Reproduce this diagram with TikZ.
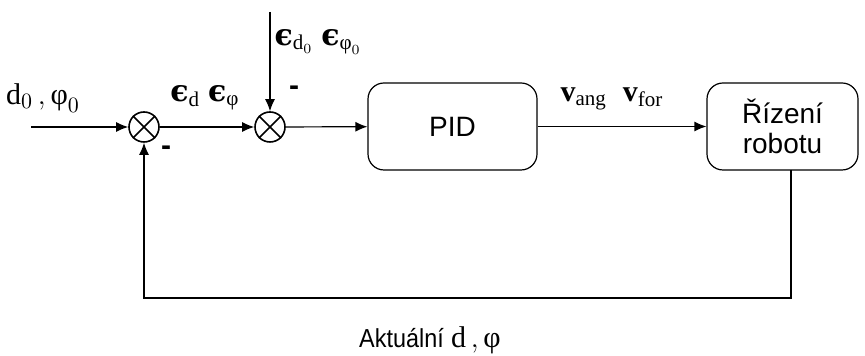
\documentclass[tikz,border=0pt]{standalone}
\usepackage{fontspec}
\usepackage{amsmath}
\setmainfont{Liberation Serif}
\setsansfont{Liberation Sans}
\newfontfamily\epsfont{DejaVu Serif}
\usetikzlibrary{arrows.meta}
\newcommand{\ep}{\text{\epsfont\bfseries ϵ}}
\newcommand{\ph}{\text{φ}}
\tikzset{
  sumnode/.style={circle,draw,thick,minimum size=15pt,inner sep=0pt},
  blockbox/.style={draw,rounded corners=8pt,font=\sffamily\fontsize{14}{16}\selectfont,align=center},
  lab/.style={font=\fontsize{15}{17}\selectfont,inner sep=0pt},
  minus/.style={font=\sffamily\bfseries\fontsize{15}{15}\selectfont,inner sep=0pt},
  conn/.style={-{Latex[length=6pt,width=5pt]}},
}
\begin{document}
\begin{tikzpicture}[x=0.5pt,y=-0.5pt,line width=0.6pt]
\useasboundingbox (0,0) rectangle (865,356);
\node[sumnode] (s1) at (144,127) {};
\node[sumnode] (s2) at (270,127) {};
\foreach \s in {s1,s2}{
  \draw[thick] (\s.north east) -- (\s.south west);
  \draw[thick] (\s.north west) -- (\s.south east);
}
\node[blockbox,minimum width=84.5pt,minimum height=43.5pt] (pid) at (452.5,126.5) {PID};
\node[blockbox,minimum width=75.5pt,minimum height=43.5pt] (rob) at (782.5,126.5) {Řízení\\[-1pt]robotu};
\coordinate (in) at (31,127);
\coordinate (top) at (270,12);
\coordinate (fb1) at (791,170);
\coordinate (fb2) at (791,298);
\coordinate (fb3) at (144,298);
\draw[conn] (in) -- (s1);
\draw[conn] (s1) -- (s2);
\draw[conn] (top) -- (s2);
\draw[conn] (s2) -- (pid);
\draw[conn] (pid) -- (rob);
\draw[conn] (fb1) -- (fb2) -- (fb3) -- (s1);
\node[lab] (l1) at (43,98) {$\mathrm{d}_0{\,,}\,\ph_0$};
\node[lab] (l2) at (205,98) {$\ep_{\mathrm{d}}\;\ep_{\ph}$};
\node[lab,anchor=west] (l3) at (274,42) {$\ep_{\mathrm{d}_0}\;\ep_{\ph_0}$};
\node[lab] (l4) at (612,99) {$\mathbf{v}_{\mathrm{ang}}\;\;\mathbf{v}_{\mathrm{for}}$};
\node[minus] (m1) at (294,91) {-};
\node[minus] (m2) at (166,151) {-};
\node[font=\sffamily\fontsize{13}{15}\selectfont,inner sep=0pt] (act) at (430,340) {\scalebox{0.9}[1]{Aktuální} {\rmfamily\fontsize{15}{15}\selectfont$\mathrm{d}{\,,}\,\ph$}};
\end{tikzpicture}
\end{document}
